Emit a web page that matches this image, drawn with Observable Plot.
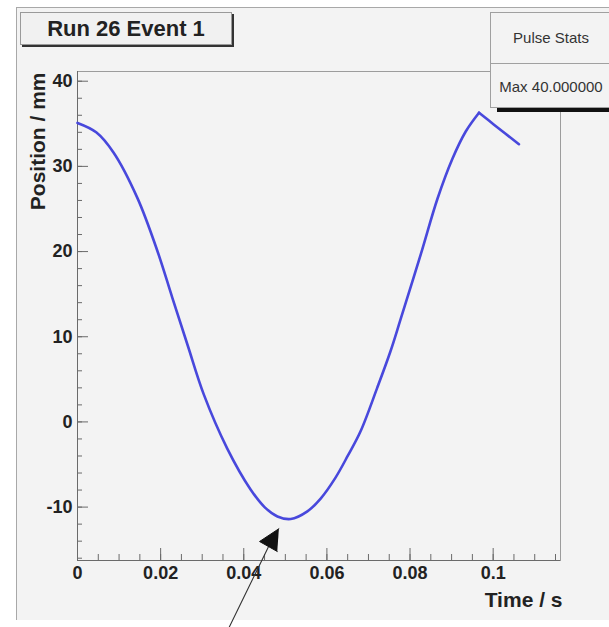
<!DOCTYPE html>
<html>
<head>
<meta charset="utf-8">
<script src="https://cdn.jsdelivr.net/npm/d3@7"></script>
<script src="https://cdn.jsdelivr.net/npm/@observablehq/plot@0.6"></script>
<style>
  html, body { margin: 0; padding: 0; background: #ffffff; overflow: hidden; }
  #wrap { position: relative; width: 609px; height: 627px; font-family: "Liberation Sans", Arial, sans-serif; }
  #canvas { position: absolute; left: 16px; top: 7px; width: 600px; height: 613px; background: #f3f3f3;
            border-top: 1px solid #a8a8a8; border-left: 1px solid #a8a8a8; box-sizing: border-box; }
  #chart { position: absolute; left: 0; top: 0; }
  #title { position: absolute; left: 20px; top: 12px; width: 212px; height: 33px; box-sizing: border-box;
           background: #f1f1f1; border: 1px solid #9a9a9a; box-shadow: 2px 2px 0 #333;
           font-size: 22px; font-weight: bold; color: #222; text-align: center; line-height: 31px; }
  #stats { position: absolute; left: 490px; top: 12px; width: 130px; height: 96px; box-sizing: border-box;
           background: #f3f3f3; border: 1px solid #a0a0a0; box-shadow: 7px 4px 0 #111; color: #333; }
  #stats .hdr { position: absolute; left: 0; top: 0; width: 120px; height: 50px; border-bottom: 1px solid #a0a0a0;
                text-align: center; line-height: 50px; font-size: 15px; }
  #stats .row { position: absolute; left: 0; top: 51px; width: 120px; height: 45px; text-align: center;
                line-height: 46px; font-size: 15px; }
</style>
</head>
<body>
<div id="wrap">
  <div id="canvas"></div>
  <div id="chart"></div>
  <div id="title"></div>
  <div id="stats"><div class="hdr"></div><div class="row"></div></div>
</div>
<script>
// ---- data ----
const titleText = "Run 26 Event 1";
const statsTitle = "Pulse Stats";
const statsRow = "Max 40.000000";
const xLabel = "Time / s";
const yLabel = "Position / mm";

// main pulse (descending, minimum, rising to peak)
const timeMain = [0, 0.0045, 0.0087, 0.0144, 0.0192, 0.0228, 0.0265, 0.0304, 0.0360, 0.0416, 0.0450, 0.0481,
                  0.0513, 0.0553, 0.0585, 0.0620, 0.0650, 0.0681, 0.0721, 0.0753, 0.0777, 0.0826, 0.0866,
                  0.0902, 0.0934, 0.0966];
const posMain  = [35.1, 34.0, 31.6, 26.3, 20.1, 14.6, 9.0, 3.2, -3.1, -7.9, -10.0, -11.1,
                  -11.4, -10.5, -9.0, -6.6, -4.0, -1.1, 4.0, 8.3, 12.0, 19.7, 26.2,
                  30.9, 34.1, 36.3];
// tail after the peak
const timeTail = [0.0966, 0.1002, 0.1062];
const posTail  = [36.3, 34.9, 32.6];

// axis ticks
const xMajor = [0, 0.02, 0.04, 0.06, 0.08, 0.1];
const xTickLabels = ["0", "0.02", "0.04", "0.06", "0.08", "0.1"];
const yMajor = [-10, 0, 10, 20, 30, 40];
const yTickLabels = ["-10", "0", "10", "20", "30", "40"];
const xDomain = [0, 0.1162];
const yDomain = [-16.27, 41.14];

// annotation arrow
const arrowTime = [0.0356, 0.0470];
const arrowPos  = [-25.0, -13.6];
const headTime = [0.04845, 0.0438, 0.04806];
const headPos  = [-12.54, -14.04, -15.21];

// ---- build ----
const xMinor = d3.range(0, 0.1151, 0.005);
const yMinor = d3.range(-16, 40.1, 2);

const curve = [
  ...timeMain.map((t, i) => ({t, v: posMain[i], s: "main"})),
  ...timeTail.map((t, i) => ({t, v: posTail[i], s: "tail"}))
];
const arrow = arrowTime.map((t, i) => ({t, v: arrowPos[i]}));
const head = headTime.map((t, i) => ({t, v: headPos[i]}));

const W = 609, H = 627;
const mL = 77, mT = 71, mR = 49, mB = 67;
const plotW = W - mL - mR, plotH = H - mT - mB;
const axisColor = "#6a6a6a";

const chart = Plot.plot({
  width: W, height: H,
  marginLeft: mL, marginTop: mT, marginRight: mR, marginBottom: mB,
  style: {background: "transparent", overflow: "visible", fontFamily: "Liberation Sans, Arial, sans-serif", fontWeight: "bold", color: "#222"},
  x: {domain: xDomain},
  y: {domain: yDomain},
  marks: [
    Plot.frame({stroke: "#9c9c9c"}),
    Plot.ruleY(yMinor, {stroke: axisColor, insetRight: plotW - 5}),
    Plot.ruleY(yMajor, {stroke: axisColor, insetRight: plotW - 11}),
    Plot.ruleX(xMinor, {stroke: axisColor, insetTop: plotH - 6}),
    Plot.ruleX(xMajor, {stroke: axisColor, insetTop: plotH - 12}),
    Plot.ruleX([xDomain[0]], {stroke: axisColor}),
    Plot.ruleY([yDomain[0]], {stroke: axisColor}),
    Plot.axisY({ticks: yMajor, tickSize: 0, tickPadding: 5, fontSize: 18, label: null,
                tickFormat: (d) => yTickLabels[yMajor.indexOf(d)]}),
    Plot.axisX({ticks: xMajor, tickSize: 0, tickPadding: 6, fontSize: 18, label: null,
                tickFormat: (d) => xTickLabels[xMajor.indexOf(d)]}),
    Plot.text([yLabel], {frameAnchor: "top-left", dx: -39, dy: 1, rotate: -90, textAnchor: "end",
                         lineAnchor: "middle", fontSize: 21, fill: "#222"}),
    Plot.text([xLabel], {frameAnchor: "bottom-right", dx: 2, dy: 40, textAnchor: "end",
                         lineAnchor: "middle", fontSize: 21, fill: "#222"}),
    Plot.line(curve, {x: "t", y: "v", z: "s", curve: "catmull-rom", stroke: "#4848dc", strokeWidth: 2.6}),
    Plot.line(arrow, {x: "t", y: "v", stroke: "#333", strokeWidth: 1.1}),
    Plot.line(head, {x: "t", y: "v", fill: "#111", stroke: "#111", strokeWidth: 1})
  ]
});
document.getElementById("chart").appendChild(chart);
document.getElementById("title").textContent = titleText;
document.querySelector("#stats .hdr").textContent = statsTitle;
document.querySelector("#stats .row").textContent = statsRow;
</script>
</body>
</html>
